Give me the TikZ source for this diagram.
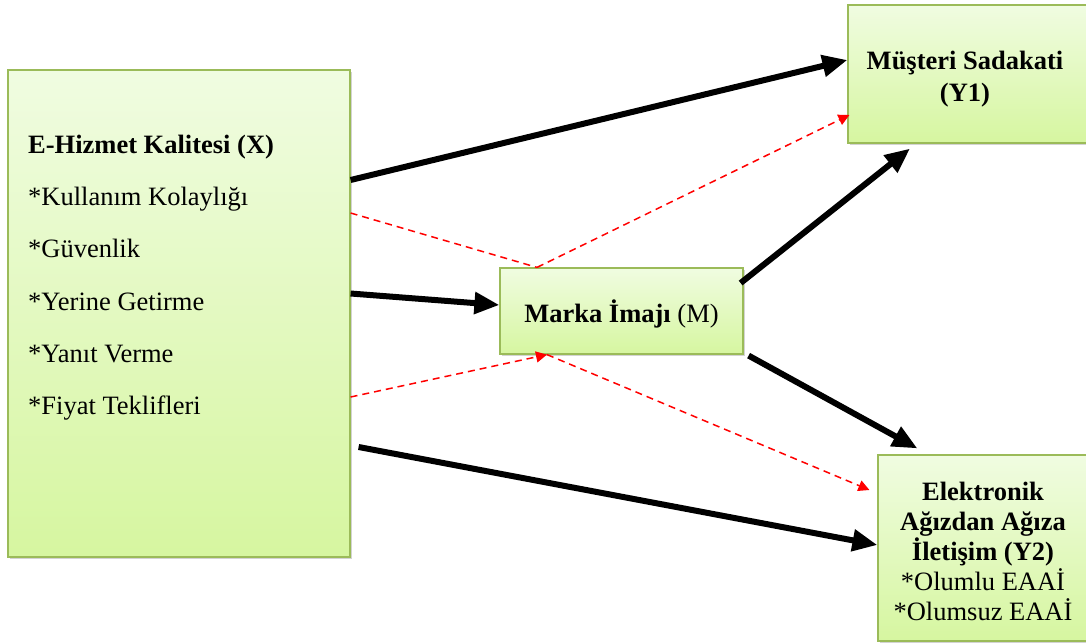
\documentclass[tikz,border=0pt]{standalone}
\usepackage{fontspec}
\setmainfont{Liberation Serif}
\usetikzlibrary{arrows.meta,shadows}
\definecolor{boxborder}{RGB}{155,187,89}
\definecolor{boxtop}{RGB}{240,252,225}
\definecolor{boxbottom}{RGB}{214,246,160}
\tikzset{
  greenbox/.style={draw=boxborder, line width=1.2pt,
    top color=boxtop, bottom color=boxbottom,
    drop shadow={shadow xshift=2pt,shadow yshift=-2pt,opacity=0.35}, inner sep=0pt},
  bigarrow/.style={line width=6pt,-{Triangle[length=25pt,width=21pt]}},
  redarrow/.style={red,line width=1.5pt,dash pattern=on 7pt off 5pt,-{Triangle[length=11pt,width=11pt]}},
  redline/.style={red,line width=1.5pt,dash pattern=on 7pt off 5pt},
  lbl/.style={font=\fontsize{26.5}{30}\selectfont, anchor=base west, inner sep=0pt},
}
\begin{document}
\begin{tikzpicture}[x=1pt,y=-1pt]
\useasboundingbox (0,0) rectangle (1086,644);
% boxes
\node[greenbox, minimum width=342pt, minimum height=487pt] (X) at (179,313.5) {};
\node[greenbox, minimum width=243pt, minimum height=86pt] (M) at (621.5,311) {};
\node[greenbox, minimum width=248pt, minimum height=138pt] (Y1) at (972,74) {};
\node[greenbox, minimum width=214pt, minimum height=186pt] (Y2) at (985,548) {};
% texts in X
\node[lbl] (t1) at (28,154) {\bfseries E-Hizmet Kalitesi (X)};
\node[lbl] (t2) at (28,206) {*Kullanım Kolaylığı};
\node[lbl] (t3) at (28,258) {*Güvenlik};
\node[lbl] (t4) at (28,310) {*Yerine Getirme};
\node[lbl] (t5) at (28,362) {*Yanıt Verme};
\node[lbl] (t6) at (28,414) {*Fiyat Teklifleri};
% M text
\node[font=\fontsize{26.5}{30}\selectfont, inner sep=0pt] (tm) at (621.5,314) {\bfseries Marka İmajı \mdseries(M)};
% Y1 text
\node[font=\fontsize{26.5}{32}\selectfont, align=center, inner sep=0pt] (ty1) at (965,79) {\bfseries Müşteri Sadakati\\ \bfseries (Y1)};
% Y2 text
\node[font=\fontsize{26.5}{30}\selectfont, align=center, inner sep=0pt] (ty2) at (983,551) {\bfseries Elektronik\\ \bfseries Ağızdan Ağıza\\ \bfseries İletişim (Y2)\\ *Olumlu EAAİ\\ *Olumsuz EAAİ};
% red dashed paths
\draw[redline] ([yshift=100.5pt]X.east) -- ([xshift=-84.5pt]M.north);
\draw[redarrow] ([xshift=-84.5pt]M.north) -- ([xshift=2pt,yshift=-41pt]Y1.west);
\draw[redarrow] ([yshift=-83.5pt]X.east) -- ([xshift=-74.5pt]M.south);
\draw[redarrow] ([xshift=-74.5pt]M.south) -- ([xshift=-8pt,yshift=58pt]Y2.west);
% black arrows
\draw[bigarrow] ([yshift=133.5pt]X.east) -- ([yshift=14pt]Y1.west);
\draw[bigarrow] ([yshift=20pt]X.east) -- ([yshift=6pt]M.west);
\draw[bigarrow] ([xshift=-3pt,yshift=28pt]M.east) -- ([xshift=-62pt,yshift=-5pt]Y1.south);
\draw[bigarrow] ([xshift=5pt,yshift=-1pt]M.south east) -- ([xshift=40pt,yshift=6pt]Y2.north west);
\draw[bigarrow] ([xshift=8pt,yshift=-133.5pt]X.east) -- ([yshift=3pt]Y2.west);
\end{tikzpicture}
\end{document}
